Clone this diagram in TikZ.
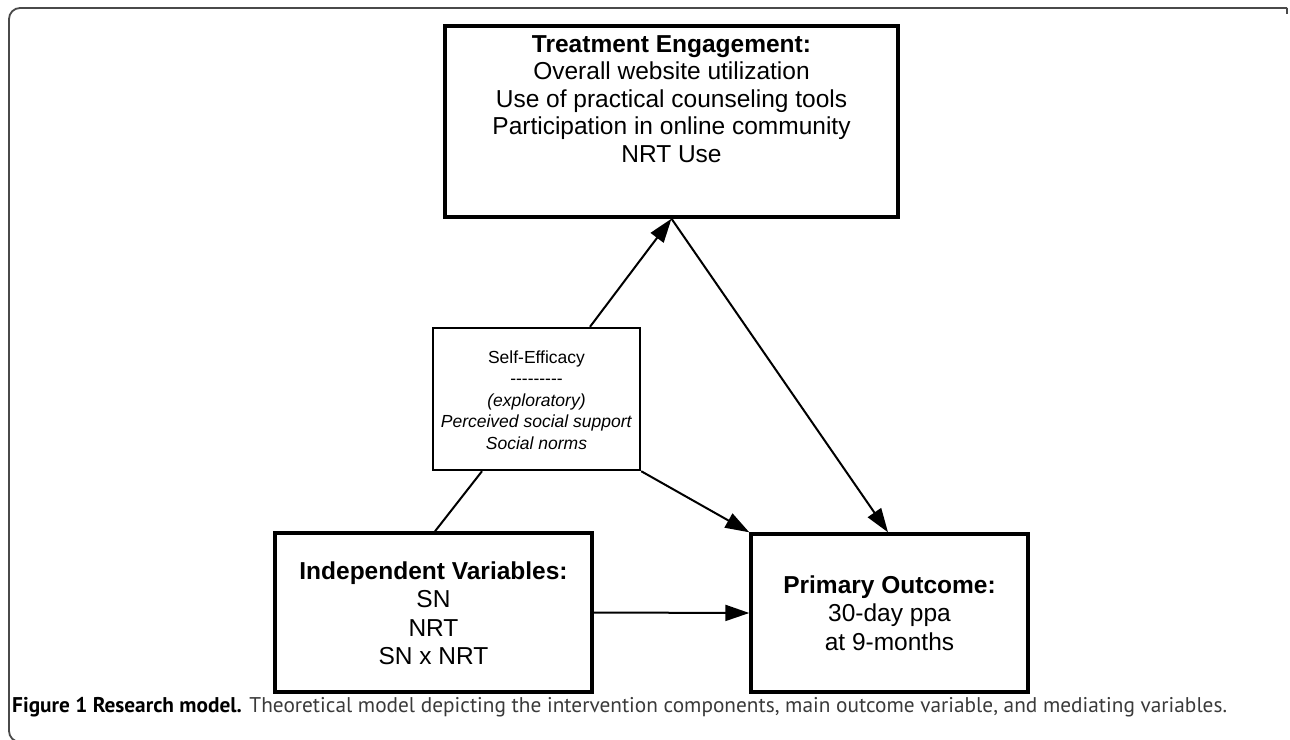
\documentclass[tikz,border=0pt]{standalone}
\usepackage{fontspec}
\setmainfont{Liberation Sans}
\newfontfamily\capfont{PT Sans}
\usetikzlibrary{arrows.meta}
\definecolor{capgray}{HTML}{3A3A3A}
\definecolor{framegray}{HTML}{4A4A4A}
\def\hy{-\kern0pt}
\begin{document}
\begin{tikzpicture}[x=1pt,y=-1pt,
  box/.style={draw, rectangle, inner sep=0pt, line width=3.4pt},
  midbox/.style={draw, rectangle, inner sep=0pt, line width=2.4pt},
  txt/.style={align=center, inner sep=0pt, font=\fontsize{24.5}{28.5}\selectfont},
  smalltxt/.style={align=center, inner sep=0pt, font=\fontsize{17.5}{21.5}\selectfont},
  conn/.style={line width=2pt},
  arr/.style={conn, -{Triangle[length=24pt,width=16pt]}}]
\useasboundingbox (0,0) rectangle (1290,739);
\clip (0,0) rectangle (1290,739);
% outer frame
\draw[framegray, line width=1.8pt, rounded corners=11pt] (80,742) -- (9,742) -- (9,8) -- (1287,8);
\draw[framegray, line width=1.8pt] (1287,8) -- (1287,14);
% boxes
\node[box, minimum width=453pt, minimum height=191pt] (top) at (671.5,121.5) {};
\node[midbox, minimum width=207pt, minimum height=142pt] (mid) at (536.5,399) {};
\node[box, minimum width=317pt, minimum height=159pt] (iv) at (433.5,612.5) {};
\node[box, minimum width=277pt, minimum height=158pt] (po) at (889.5,613) {};
% texts
\node[txt, font=\fontsize{24.5}{27.5}\selectfont] (toptxt) at (671.5,99) {\textbf{Treatment Engagement:}\\Overall website utilization\\Use of practical counseling tools\\Participation in online community\\NRT Use};
\node[smalltxt] (midtxt) at (536.5,400) {Self-Efficacy\\\hy\hy\hy\hy\hy\hy\hy\hy\hy\\\textit{(exploratory)}\\\textit{Perceived social support}\\\textit{Social norms}};
\node[txt] (ivtxt) at (433.5,613) {\textbf{Independent Variables:}\\SN\\NRT\\SN x NRT};
\node[txt] (potxt) at (889.5,613) {\textbf{Primary Outcome:}\\30-day ppa\\at 9-months};
% connectors
\draw[arr] ([xshift=53.5pt]mid.north) -- (top.south);
\draw[arr] (top.south) -- ([xshift=-1.5pt]po.north);
\draw[conn] ([xshift=1.5pt]iv.north) -- ([xshift=-54.5pt]mid.south);
\draw[arr] (mid.south east) -- (po.north west);
\draw[arr] (iv.east) -- (po.west);
% caption
\node[anchor=base west, inner sep=0pt, font=\capfont\fontsize{21.3}{25}\selectfont] (cap) at (12,712) {\textbf{Figure 1 Research model.} \textcolor{capgray}{Theoretical model depicting the intervention components, main outcome variable, and mediating variables.}};
\end{tikzpicture}
\end{document}
